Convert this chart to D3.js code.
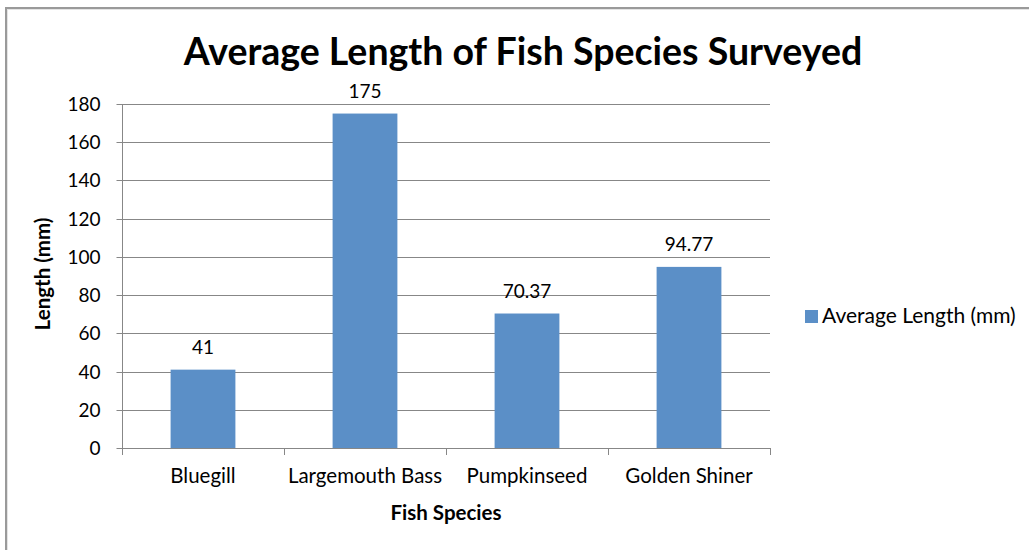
<!DOCTYPE html>
<html>
<head>
<meta charset="utf-8">
<script src="https://cdn.jsdelivr.net/npm/d3@7"></script>
<style>
  html, body { margin: 0; padding: 0; background: #fff; }
  svg { display: block; }
  text { font-family: Lato, "Open Sans", sans-serif; fill: #000; }
</style>
</head>
<body>
<svg id="chart" width="1029" height="550"></svg>
<script>
// Survey data
const species = ["Bluegill", "Largemouth Bass", "Pumpkinseed", "Golden Shiner"];
const avgLength = [41, 175, 70.37, 94.77];
const valueLabels = ["41", "175", "70.37", "94.77"];
const yTicks = [0, 20, 40, 60, 80, 100, 120, 140, 160, 180];
const seriesName = "Average Length (mm)";

const svg = d3.select("#chart");
const W = 1029, H = 550;
const plot = { left: 122, right: 770, top: 104, bottom: 448 };
const barColor = "#5b8fc7";
const gridColor = "#878787";
const numSize = 19, labelSize = 20.5;

// Outer chart frame
svg.append("rect").attr("x", 6).attr("y", 8).attr("width", W + 10).attr("height", H + 10)
  .attr("fill", "none").attr("stroke", "#9a9a9a").attr("stroke-width", 2);
svg.append("rect").attr("x", 7.5).attr("y", 9.5).attr("width", W + 10).attr("height", H + 10)
  .attr("fill", "none").attr("stroke", "#e4e4e4").attr("stroke-width", 1);

const xb = d3.scaleBand().domain(species).range([plot.left, plot.right]);
const y = d3.scaleLinear().domain([0, 180]).range([plot.bottom, plot.top]);

// Horizontal gridlines
svg.append("g").selectAll("line").data(yTicks.filter(d => d > 0)).join("line")
  .attr("x1", plot.left).attr("x2", plot.right)
  .attr("y1", d => Math.round(y(d)) + 0.5).attr("y2", d => Math.round(y(d)) + 0.5)
  .attr("stroke", gridColor).attr("stroke-width", 1);

// Bars: 40% of each category slot, centred
svg.append("g").selectAll("rect").data(species).join("rect")
  .attr("x", d => xb(d) + xb.bandwidth() * 0.3)
  .attr("width", xb.bandwidth() * 0.4)
  .attr("y", (d, i) => y(avgLength[i]))
  .attr("height", (d, i) => plot.bottom - y(avgLength[i]))
  .attr("fill", barColor);

// Value labels above bars
svg.append("g").selectAll("text").data(species).join("text")
  .attr("x", d => xb(d) + xb.bandwidth() / 2)
  .attr("y", (d, i) => y(avgLength[i]) - 16)
  .attr("text-anchor", "middle").attr("font-size", numSize)
  .text((d, i) => valueLabels[i]);

// Y axis
const yAxis = svg.append("g").attr("transform", `translate(${plot.left + 0.5},0)`)
  .call(d3.axisLeft(y).tickValues(yTicks).tickSize(6).tickPadding(16).tickFormat(d3.format("d")));
yAxis.select(".domain").attr("stroke", gridColor).attr("d", `M0,${plot.top}V${plot.bottom + 6}`);
yAxis.selectAll(".tick line").attr("stroke", gridColor);
yAxis.selectAll(".tick").attr("transform", d => `translate(0,${Math.round(y(d)) + 0.5})`);
yAxis.selectAll(".tick text").attr("font-size", numSize).attr("font-family", "Lato, sans-serif").attr("fill", "#000");

// X axis
const xAxis = svg.append("g").attr("transform", `translate(0,${plot.bottom + 0.5})`)
  .call(d3.axisBottom(xb).tickSize(0).tickPadding(20));
xAxis.select(".domain").attr("stroke", gridColor).attr("d", `M${plot.left},0H${plot.right}`);
xAxis.selectAll(".tick text").attr("font-size", labelSize).attr("font-family", "Lato, sans-serif").attr("fill", "#000");
// Category boundary ticks
svg.append("g").selectAll("line").data(species.concat(["end"])).join("line")
  .attr("x1", (d, i) => Math.round(i < species.length ? xb(d) : plot.right) + 0.5)
  .attr("x2", (d, i) => Math.round(i < species.length ? xb(d) : plot.right) + 0.5)
  .attr("y1", plot.bottom).attr("y2", plot.bottom + 7)
  .attr("stroke", gridColor);

// Title
svg.append("text").attr("x", 523).attr("y", 65).attr("text-anchor", "middle")
  .attr("font-size", 37.5).attr("font-weight", "bold")
  .text("Average Length of Fish Species Surveyed");

// Axis titles
svg.append("text").attr("transform", "translate(50,274) rotate(-90)").attr("text-anchor", "middle")
  .attr("font-size", labelSize).attr("font-weight", "bold").text("Length (mm)");
svg.append("text").attr("x", 446).attr("y", 520).attr("text-anchor", "middle")
  .attr("font-size", labelSize).attr("font-weight", "bold").text("Fish Species");

// Legend
const lg = svg.append("g").attr("transform", "translate(805,310)");
lg.append("rect").attr("width", 13).attr("height", 13).attr("fill", barColor);
lg.append("text").attr("x", 17).attr("y", 13).attr("font-size", 21).text(seriesName);
</script>
</body>
</html>
